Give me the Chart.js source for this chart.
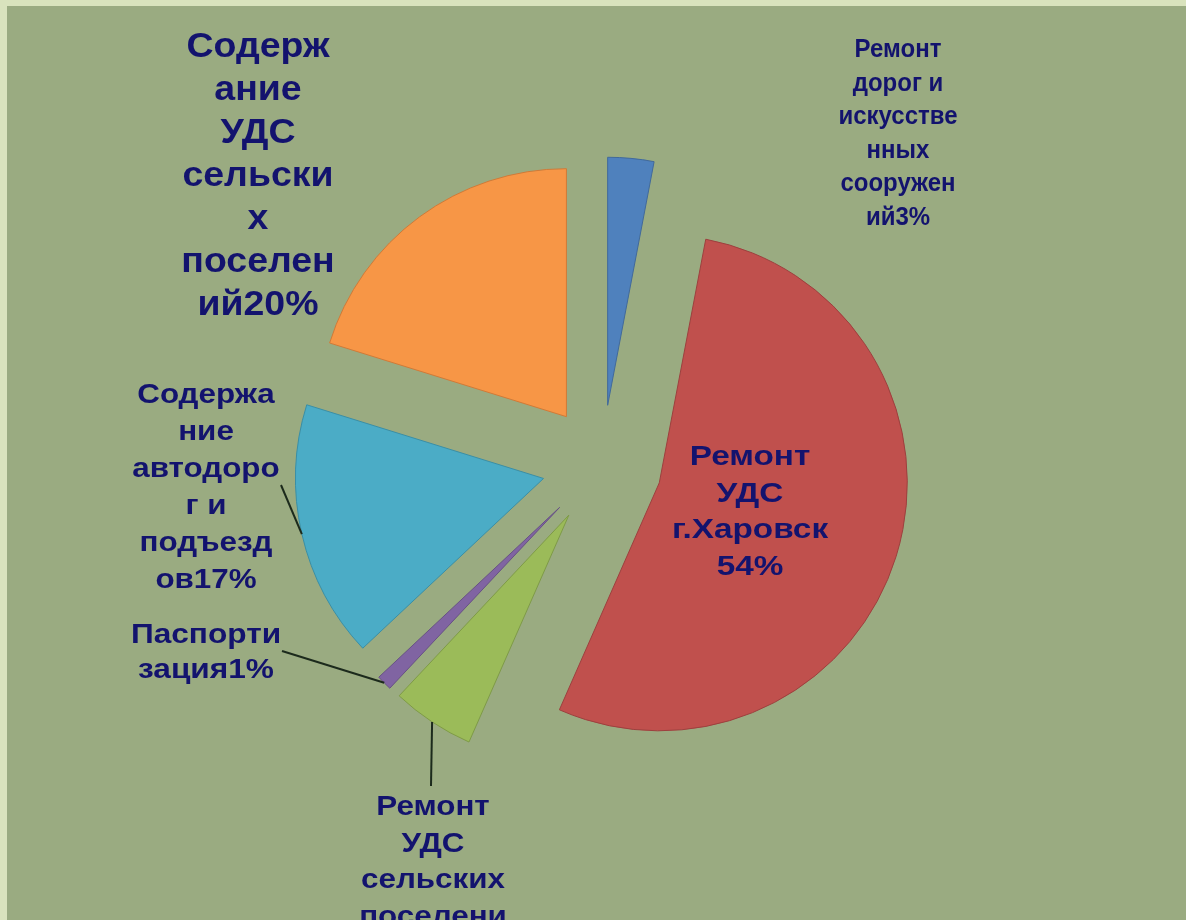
<!DOCTYPE html>
<html>
<head>
<meta charset="utf-8">
<script src="https://cdn.jsdelivr.net/npm/chart.js@4.4.1/dist/chart.umd.min.js"></script>
<style>
  html, body { margin: 0; padding: 0; background: #d9e3bd; overflow: hidden; }
  #frame {
    position: absolute; left: 7px; top: 6px; width: 1179px; height: 914px;
    background: #9aab81;
  }
  #wrap { position: absolute; left: 0; top: 0; width: 1186px; height: 920px; }
</style>
</head>
<body>
<div id="frame"></div>
<div id="wrap"><canvas id="pie" width="1186" height="920"></canvas></div>
<script>
// categories, '|' marks where the data label wraps
const categories = [
  'Ремонт|дорог и|искусстве|нных|сооружен|ий',
  'Ремонт|УДС|г.Харовск|',
  'Ремонт|УДС|сельских|поселени|й',
  'Паспорти|зация',
  'Содержа|ние|автодоро|г и|подъезд|ов',
  'Содерж|ание|УДС|сельски|х|поселен|ий'
];
const shares = [3.0, 53.6, 5.4, 1.0, 16.8, 20.2];
const colors = ['#4f81bd', '#c0504d', '#9bbb59', '#8064a2', '#4bacc6', '#f79646'];
const borders = ['#41699a', '#9c403e', '#7e9a47', '#675184', '#3a8ea5', '#cf7a38'];

// label placement: centre x, first baseline y, line height, font size, x stretch
const labelPos = [
  [898, 57, 33.5, 25, 0.96],
  [750, 465, 36.5, 28, 1.19],
  [433, 815, 36.5, 28, 1.12],
  [206, 643, 35, 28, 1.13],
  [206, 403, 37, 28, 1.12],
  [258, 57, 43, 35, 1.07]
];
// leader lines: label end of the line (null = no line)
const leaderFrom = [null, null, [431, 786], [282, 651], [281, 485], null];

const EXPLODE = 60;
const total = shares.reduce((a, b) => a + b, 0);

const explodePlugin = {
  id: 'explode',
  beforeDatasetDraw(chart, args) {
    const ctx = chart.ctx;
    const meta = chart.getDatasetMeta(args.index);
    meta.data.forEach(arc => {
      const mid = (arc.startAngle + arc.endAngle) / 2;
      ctx.save();
      ctx.translate(Math.cos(mid) * EXPLODE, Math.sin(mid) * EXPLODE);
      arc.draw(ctx);
      ctx.restore();
    });
    return false;
  },
  afterDatasetsDraw(chart) {
    const ctx = chart.ctx;
    const meta = chart.getDatasetMeta(0);
    ctx.save();
    // leader lines
    ctx.strokeStyle = '#1c2a1c';
    ctx.lineWidth = 2;
    meta.data.forEach((arc, i) => {
      if (!leaderFrom[i]) return;
      const mid = (arc.startAngle + arc.endAngle) / 2;
      const r = EXPLODE + arc.outerRadius;
      ctx.beginPath();
      ctx.moveTo(leaderFrom[i][0], leaderFrom[i][1]);
      ctx.lineTo(arc.x + Math.cos(mid) * r, arc.y + Math.sin(mid) * r);
      ctx.stroke();
    });
    // data labels
    ctx.fillStyle = '#13136e';
    ctx.textAlign = 'center';
    ctx.textBaseline = 'alphabetic';
    categories.forEach((cat, i) => {
      const lines = cat.split('|');
      const pct = Math.round(shares[i] / total * 100) + '%';
      if (lines[lines.length - 1] === '') lines[lines.length - 1] = pct;
      else lines[lines.length - 1] += pct;
      const [x, y, lh, fs, sx] = labelPos[i];
      ctx.save();
      ctx.translate(x, 0);
      ctx.scale(sx, 1);
      ctx.font = 'bold ' + fs + 'px "Liberation Sans", Arial, sans-serif';
      lines.forEach((ln, k) => ctx.fillText(ln, 0, y + k * lh));
      ctx.restore();
    });
    ctx.restore();
  }
};

new Chart(document.getElementById('pie'), {
  type: 'pie',
  data: {
    labels: categories.map(c => c.replace(/\|/g, '')),
    datasets: [{
      data: shares,
      backgroundColor: colors,
      borderColor: borders,
      borderWidth: 1
    }]
  },
  options: {
    responsive: false,
    animation: false,
    radius: 248,
    layout: { padding: { left: 18, top: 10, right: 0, bottom: 0 } },
    plugins: { legend: { display: false }, tooltip: { enabled: false } },
    events: []
  },
  plugins: [explodePlugin]
});
</script>
</body>
</html>
